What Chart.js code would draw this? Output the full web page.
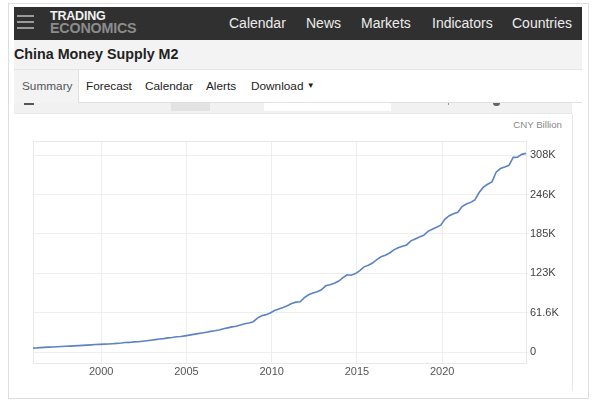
<!DOCTYPE html>
<html>
<head>
<meta charset="utf-8">
<script src="https://cdn.jsdelivr.net/npm/chart.js@4.4.1/dist/chart.umd.min.js"></script>
<style>
  html, body { margin:0; padding:0; background:#fff; width:600px; height:415px; overflow:hidden; font-family:"Liberation Sans", Arial, Helvetica, sans-serif; }
  .abs { position:absolute; }
  #frame { left:8px; top:3px; width:579px; height:394px; border:1px solid #dedede; }
  #header { left:14px; top:7px; width:568px; height:33px; background:#303030; }
  .bar { position:absolute; left:3px; width:17px; height:2px; background:#9a9a9a; }
  #logo1 { left:50px; top:10px; font-weight:bold; font-size:12.5px; color:#f2f2f2; letter-spacing:-0.2px; line-height:13px; }
  #logo2 { left:50px; top:21px; font-weight:bold; font-size:14.3px; color:#8c8c8c; letter-spacing:-0.2px; line-height:14px; }
  .nav { top:15px; font-size:14px; color:#ececec; line-height:16px; }
  #titleband { left:14px; top:40px; width:568px; height:30px; background:#f3f3f3; border-bottom:1px solid #e4e4e4; box-sizing:border-box; }
  #title { left:14px; top:46px; font-weight:bold; font-size:14.3px; color:#222; line-height:17px; }
  #tabgray { left:14px; top:70px; width:64px; height:44px; background:#f3f3f3; }
  #tabwhite { left:78px; top:70px; width:504px; height:33px; background:#fff; border-left:1px solid #e0e0e0; border-bottom:1px solid #e0e0e0; box-sizing:border-box; }
  .tab { top:79px; font-size:11.8px; color:#222; line-height:14px; }
  #toolbar { left:14px; top:103px; width:558px; height:11px; background:#f1f1f1; border-bottom:1px solid #e8e8e8; box-sizing:border-box; }
  #panelright { left:572px; top:114px; width:1px; height:277px; background:#e8e8e8; }
  #unit { left:470px; top:119px; width:92px; text-align:right; font-size:9.7px; color:#8a8a8a; line-height:12px; }
  #chartwrap { left:14px; top:114px; width:558px; height:276px; }
</style>
</head>
<body>
<div id="frame" class="abs"></div>
<div id="header" class="abs">
  <div class="bar" style="top:8px"></div>
  <div class="bar" style="top:14px"></div>
  <div class="bar" style="top:20px"></div>
</div>
<div id="logo1" class="abs">TRADING</div>
<div id="logo2" class="abs">ECONOMICS</div>
<div class="abs nav" style="left:229px">Calendar</div>
<div class="abs nav" style="left:306px">News</div>
<div class="abs nav" style="left:361px">Markets</div>
<div class="abs nav" style="left:432px">Indicators</div>
<div class="abs nav" style="left:512px">Countries</div>
<div id="titleband" class="abs"></div>
<div id="title" class="abs">China Money Supply M2</div>
<div id="tabgray" class="abs"></div>
<div id="toolbar" class="abs"></div>
<div class="abs" style="left:24px;top:103px;width:10px;height:2px;background:#555;"></div>
<div class="abs" style="left:171px;top:103px;width:39px;height:8px;background:#e2e2e2;"></div>
<div class="abs" style="left:264px;top:103px;width:127px;height:8px;background:#fff;"></div>
<div class="abs" style="left:448px;top:103px;width:1px;height:2px;background:#999;"></div>
<div class="abs" style="left:493px;top:103px;width:7px;height:3px;background:#666;border-radius:0 0 4px 4px;"></div>
<div id="tabwhite" class="abs"></div>
<div class="abs tab" style="left:22px;color:#555">Summary</div>
<div class="abs tab" style="left:86px">Forecast</div>
<div class="abs tab" style="left:145px">Calendar</div>
<div class="abs tab" style="left:206px">Alerts</div>
<div class="abs tab" style="left:251px">Download <span style="font-size:8px;position:relative;top:-2px">&#9660;</span></div>
<div id="panelright" class="abs"></div>
<div id="unit" class="abs">CNY Billion</div>
<div id="chartwrap" class="abs"><canvas id="c" width="558" height="276"></canvas></div>

<script>
// Years covered and M2 (CNY billion), by quarter end
const years = [1996,1997,1998,1999,2000,2001,2002,2003,2004,2005,2006,2007,2008,2009,2010,2011,2012,2013,2014,2015,2016,2017,2018,2019,2020,2021,2022,2023,2024];
const m2Start = 6100; // January 1996
const m2Mar = [6390,7970,9300,10860,12380,14000,16090,19440,22790,26420,31050,36400,42310,53060,64990,75810,89560,103610,116070,127530,144620,159960,173990,188940,208090,227650,249770,281460,304800];
const m2Jun = [6800,8280,9640,11250,12610,14780,16910,20480,23840,27580,32270,37780,44310,56890,67390,78080,92500,105450,120960,133340,149050,163130,177020,192140,213490,231790,258150,287300,305020];
const m2Sep = [7210,8640,10060,11700,13000,15020,17690,21000,24300,28760,33170,39310,45290,58540,69640,78740,94370,107740,120210,135980,151640,165570,180170,195230,216410,234280,262660,289670,309480];
const m2Dec = [7610,9100,10450,11990,13460,15830,18500,22120,25320,29880,34560,40340,47520,61020,72590,85160,97410,110650,122840,139230,155010,167680,182670,198650,218680,238290,266430,292270,311000];

const xTickValues = [2000,2005,2010,2015,2020];
const yTickValues = [0,61600,123200,184800,246400,308000];
const yTickLabels = ['0','61.6K','123K','185K','246K','308K'];

const points = [{x: years[0], y: m2Start}];
years.forEach((yr, i) => {
  points.push({x: yr + 2/12, y: m2Mar[i]});
  points.push({x: yr + 5/12, y: m2Jun[i]});
  points.push({x: yr + 8/12, y: m2Sep[i]});
  points.push({x: yr + 11/12, y: m2Dec[i]});
});

const framePlugin = {
  id: 'frame',
  beforeDatasetsDraw(chart) {
    const a = chart.chartArea, ctx = chart.ctx;
    ctx.save();
    ctx.strokeStyle = '#e8e8e8';
    ctx.lineWidth = 1;
    ctx.strokeRect(Math.round(a.left) + 0.5, Math.round(a.top) + 0.5, Math.round(a.right - a.left), Math.round(a.bottom - a.top));
    ctx.restore();
  }
};

new Chart(document.getElementById('c'), {
  type: 'line',
  data: { datasets: [{ data: points, borderColor: '#5b83c5', borderWidth: 1.6, pointRadius: 0, tension: 0, fill: false }] },
  options: {
    responsive: false,
    animation: false,
    layout: { padding: { left: 19, top: 27, right: 0, bottom: 0 } },
    plugins: { legend: { display: false }, tooltip: { enabled: false } },
    scales: {
      x: {
        type: 'linear',
        min: years[0],
        max: years[years.length - 1] + 11/12,
        afterBuildTicks: s => { s.ticks = xTickValues.map(v => ({ value: v })); },
        afterFit: s => { s.height = 27; },
        ticks: { callback: v => String(v), font: { size: 11, family: '"Liberation Sans", Arial, sans-serif' }, color: '#555', padding: 2, maxRotation: 0 },
        grid: { color: '#eeeeee', drawTicks: false },
        border: { color: '#e3e3e3' }
      },
      y: {
        position: 'right',
        min: -17200,
        max: 330400,
        afterBuildTicks: s => { s.ticks = yTickValues.map(v => ({ value: v })); },
        afterFit: s => { s.width = 46; },
        ticks: { callback: v => yTickLabels[yTickValues.indexOf(v)], font: { size: 11, family: '"Liberation Sans", Arial, sans-serif' }, color: '#444', padding: 1 },
        grid: { color: '#eeeeee', tickLength: 3 },
        border: { color: '#e3e3e3' }
      }
    }
  },
  plugins: [framePlugin]
});
</script>
</body>
</html>
